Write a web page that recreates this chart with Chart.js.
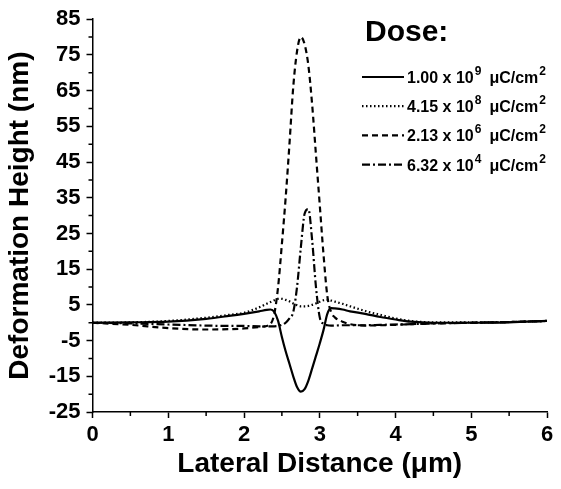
<!DOCTYPE html>
<html>
<head>
<meta charset="utf-8">
<script src="https://cdn.jsdelivr.net/npm/chart.js@4.4.1/dist/chart.umd.min.js"></script>
<style>
    html, body { margin: 0; padding: 0; background: #fff; }
    #wrap { width: 561px; height: 489px; }
</style>
</head>
<body>
<div id="wrap"><canvas id="deformationGraph" width="561" height="489"></canvas></div>
<script>
// lateral positions (um), shared by every dose curve
const lateralDistance = [0, 0.5, 1.0, 1.5, 1.8, 2.0, 2.2, 2.3, 2.35, 2.4, 2.45, 2.5, 2.55, 2.6, 2.65, 2.7, 2.75, 2.8, 2.85, 2.9, 2.95, 3.0, 3.05, 3.1, 3.15, 3.2, 3.3, 3.4, 3.6, 3.8, 4.0, 4.2, 4.5, 5.0, 5.5, 6.0];

// deformation height (nm) per dose
const dose1e9 = [0, 0.1, 0.3, 1.1, 1.9, 2.5, 3.2, 3.6, 3.7, 3.0, 0.5, -4, -8, -11.5, -15, -18, -19.3, -18.6, -16.2, -12.8, -9.3, -5.8, -2, 2.5, 4.1, 4.0, 3.7, 3.2, 2.5, 1.6, 0.9, 0.3, 0, 0, 0.1, 0.5];
const dose4e8 = [0, 0.1, 0.5, 1.4, 2.2, 2.8, 4.3, 5.3, 5.8, 6.3, 6.7, 6.7, 6.4, 6.0, 5.4, 4.9, 4.6, 4.6, 4.7, 5.0, 5.4, 5.9, 6.3, 6.4, 6.2, 5.9, 5.3, 4.6, 3.3, 2.2, 1.2, 0.5, 0.1, 0.1, 0.2, 0.5];
const dose2e6 = [0, -0.6, -1.5, -1.9, -1.8, -1.6, -1.2, -0.9, -0.4, 2.5, 10, 22, 35, 50, 66, 76, 80, 78, 72, 61, 47, 33, 19, 7.5, 3, 1.5, 0.3, -0.4, -0.8, -0.7, -0.6, -0.4, -0.2, 0, 0.2, 0.5];
const dose6e4 = [0, -0.2, -0.5, -0.8, -0.9, -0.9, -1.0, -1.0, -1.0, -1.0, -0.9, -0.6, 0, 1.2, 3, 10, 21, 30.5, 31.8, 23, 10, 1.5, -0.3, -0.7, -0.8, -0.8, -0.7, -0.7, -0.7, -0.6, -0.5, -0.4, -0.2, 0, 0.2, 0.5];

// legend text: mantissa + exponent
const doseMantissa = ['1.00 x 10', '4.15 x 10', '2.13 x 10', '6.32 x 10'];
const doseExponent = ['9', '8', '6', '4'];

// minor tick positions
const xMinorTicks = [0.5, 1.5, 2.5, 3.5, 4.5, 5.5];
const yMinorTicks = [-20, -10, 0, 10, 20, 30, 40, 50, 60, 70, 80];

const FONT = "'Liberation Sans', Arial, sans-serif";
Chart.defaults.font.family = FONT;
Chart.defaults.color = '#000';

function make_points(values) {
    return lateralDistance.map((x, i) => ({ x: x, y: values[i] }));
}

function make_dataset(label, values, dash) {
    return {
        label: label,
        data: make_points(values),
        borderColor: '#000',
        borderWidth: 2.2,
        borderDash: dash,
        pointRadius: 0,
        fill: false,
        cubicInterpolationMode: 'monotone'
    };
}

// small outer ticks between the labelled ones
const minorTicksPlugin = {
    id: 'minorTicks',
    afterDraw(chart) {
        const { ctx, chartArea } = chart;
        const xs = chart.scales.x, ys = chart.scales.y;
        ctx.save();
        ctx.strokeStyle = '#000';
        ctx.lineWidth = 1.5;
        ctx.beginPath();
        xMinorTicks.forEach(v => {
            const px = xs.getPixelForValue(v);
            ctx.moveTo(px, chartArea.bottom);
            ctx.lineTo(px, chartArea.bottom + 4);
        });
        yMinorTicks.forEach(v => {
            const py = ys.getPixelForValue(v);
            ctx.moveTo(chartArea.left, py);
            ctx.lineTo(chartArea.left - 4, py);
        });
        ctx.stroke();
        ctx.restore();
    }
};

// "Dose:" legend with superscripts
const doseLegendPlugin = {
    id: 'doseLegend',
    afterDraw(chart) {
        const ctx = chart.ctx;
        ctx.save();
        ctx.fillStyle = '#000';
        ctx.textBaseline = 'alphabetic';
        ctx.font = `bold 30px ${FONT}`;
        ctx.fillText('Dose:', 365, 41);
        chart.data.datasets.forEach((ds, i) => {
            const y = 77 + i * 29.2;
            ctx.strokeStyle = '#000';
            ctx.lineWidth = 2.2;
            ctx.setLineDash(ds.borderDash || []);
            ctx.beginPath();
            ctx.moveTo(362, y);
            ctx.lineTo(404, y);
            ctx.stroke();
            ctx.setLineDash([]);
            const base = y + 6;
            let x = 407;
            ctx.font = `bold 16px ${FONT}`;
            ctx.fillText(doseMantissa[i], x, base);
            x += ctx.measureText(doseMantissa[i]).width + 1;
            ctx.font = `bold 12px ${FONT}`;
            ctx.fillText(doseExponent[i], x, base - 8);
            x += ctx.measureText(doseExponent[i]).width + 8;
            ctx.font = `bold 16px ${FONT}`;
            ctx.fillText('\u03bcC/cm', x, base);
            x += ctx.measureText('\u03bcC/cm').width + 1;
            ctx.font = `bold 12px ${FONT}`;
            ctx.fillText('2', x, base - 8);
        });
        ctx.restore();
    }
};

const datasets = [
    make_dataset('1.00 x 10^9 \u03bcC/cm^2', dose1e9, []),
    make_dataset('4.15 x 10^8 \u03bcC/cm^2', dose4e8, [1.5, 2.5]),
    make_dataset('2.13 x 10^6 \u03bcC/cm^2', dose2e6, [6, 4]),
    make_dataset('6.32 x 10^4 \u03bcC/cm^2', dose6e4, [8, 3, 2, 3])
];

const deformationGraph = new Chart('deformationGraph', {
    type: 'line',
    data: { datasets: datasets },
    options: {
        responsive: false,
        animation: false,
        layout: { padding: { top: 19, right: 14, left: 0, bottom: 0 } },
        plugins: {
            legend: { display: false },
            tooltip: { enabled: false }
        },
        scales: {
            x: {
                type: 'linear',
                min: 0,
                max: 6,
                ticks: { stepSize: 1, font: { size: 22, weight: 'bold' }, padding: 4, maxRotation: 0 },
                grid: { drawOnChartArea: false, drawTicks: true, tickLength: 6, tickColor: '#000', tickWidth: 1.5 },
                border: { display: true, color: '#000', width: 1.5 },
                title: { display: true, text: 'Lateral Distance (\u03bcm)', font: { size: 28, weight: 'bold' }, padding: { top: 0, bottom: 8 } },
                afterFit: scale => { scale.height = 77; }
            },
            y: {
                type: 'linear',
                min: -25,
                max: 85,
                ticks: { stepSize: 10, font: { size: 22, weight: 'bold' }, padding: 6 },
                grid: { drawOnChartArea: false, drawTicks: true, tickLength: 6, tickColor: '#000', tickWidth: 1.5 },
                border: { display: true, color: '#000', width: 1.5 },
                title: { display: true, text: 'Deformation Height (nm)', font: { size: 28, weight: 'bold' }, padding: { top: 3, bottom: 0 } },
                afterFit: scale => { scale.width = 92.5; }
            }
        }
    },
    plugins: [minorTicksPlugin, doseLegendPlugin]
});
</script>
</body>
</html>
